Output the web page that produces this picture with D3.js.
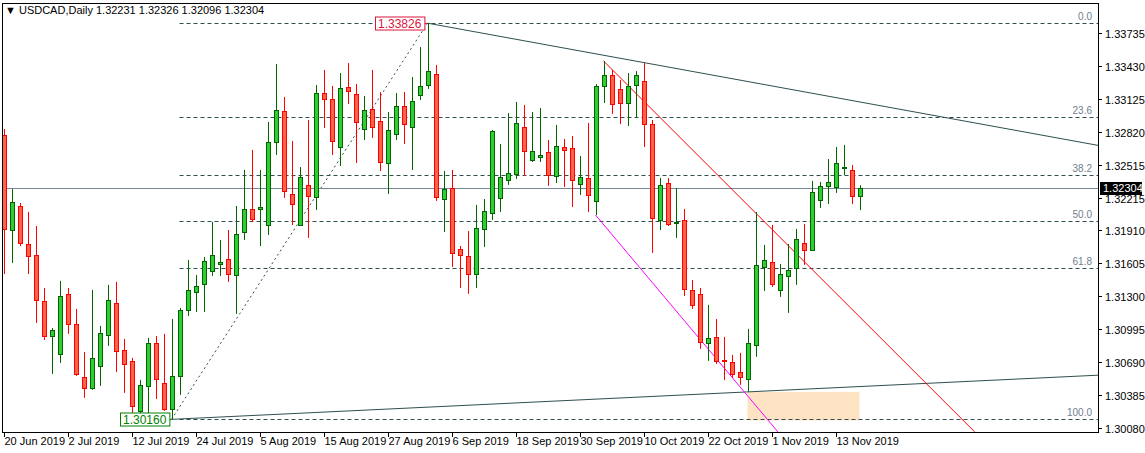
<!DOCTYPE html>
<html><head><meta charset="utf-8">
<script src="https://cdn.jsdelivr.net/npm/d3@7"></script>
<style>body{margin:0;background:#fff}svg{display:block}text{font-family:"Liberation Sans",Arial,sans-serif}</style>
</head><body><svg id="c" width="1145" height="453"></svg>
<script>
const open=[1.32791,1.31912,1.32134,1.31783,1.31681,1.31256,1.30932,1.30766,1.31321,1.31043,1.30553,1.30451,1.30655,1.30941,1.31237,1.30803,1.30701,1.30238,1.30470,1.30867,1.30497,1.30257,1.30562,1.31172,1.31339,1.31413,1.31533,1.31598,1.31644,1.31496,1.31894,1.32107,1.32107,1.31959,1.32727,1.33013,1.32246,1.31959,1.32329,1.32218,1.33180,1.33124,1.32680,1.33235,1.33171,1.32847,1.33032,1.32921,1.32532,1.32801,1.33060,1.32865,1.33161,1.33254,1.33356,1.32199,1.32301,1.31737,1.31672,1.31505,1.31922,1.32070,1.32209,1.32375,1.32431,1.32865,1.32560,1.32588,1.32634,1.32412,1.32680,1.32671,1.32338,1.32394,1.32181,1.33245,1.33346,1.33217,1.33087,1.33254,1.33291,1.32893,1.32005,1.32347,1.31977,1.32005,1.31358,1.31321,1.30867,1.30923,1.30710,1.30692,1.30599,1.30534,1.30849,1.31570,1.31617,1.31358,1.31487,1.31561,1.31792,1.31728,1.32190,1.32320,1.32310,1.32495,1.32468,1.32231];
const high=[1.32847,1.32292,1.32162,1.32079,1.31949,1.31376,1.31006,1.31441,1.31376,1.31182,1.30784,1.31358,1.31025,1.31404,1.31432,1.30904,1.30729,1.30525,1.30914,1.30932,1.30951,1.31089,1.31191,1.31635,1.31496,1.31663,1.31987,1.31820,1.31912,1.32134,1.32468,1.32653,1.32468,1.32912,1.33448,1.33143,1.32736,1.32495,1.32930,1.33254,1.33393,1.33245,1.33365,1.33457,1.33263,1.33152,1.33393,1.33189,1.33004,1.33180,1.33189,1.33328,1.33605,1.33826,1.33439,1.32458,1.32468,1.31764,1.31903,1.32144,1.32199,1.32838,1.32708,1.32995,1.33097,1.33069,1.33004,1.33041,1.32745,1.32884,1.32754,1.32782,1.32597,1.32902,1.33263,1.33476,1.33393,1.33300,1.33365,1.33383,1.33457,1.32930,1.32394,1.32394,1.32301,1.32107,1.31450,1.31376,1.31219,1.31089,1.30923,1.30756,1.30775,1.30997,1.32079,1.31774,1.31959,1.31598,1.31783,1.31922,1.31968,1.32366,1.32357,1.32569,1.32680,1.32699,1.32514,1.32326];
const low=[1.31505,1.31607,1.31764,1.31505,1.31052,1.30895,1.30581,1.30682,1.30951,1.30562,1.30359,1.30433,1.30470,1.30840,1.30599,1.30405,1.30183,1.30211,1.30211,1.30349,1.30238,1.30160,1.30386,1.31117,1.31154,1.31154,1.31487,1.31487,1.31432,1.31136,1.31820,1.31987,1.31764,1.31866,1.32606,1.32209,1.31959,1.31950,1.31839,1.32098,1.32856,1.32606,1.32505,1.33078,1.32532,1.32745,1.32764,1.32458,1.32246,1.32745,1.32708,1.32468,1.33115,1.33217,1.32181,1.31894,1.31570,1.31376,1.31321,1.31376,1.31755,1.32005,1.32079,1.32329,1.32384,1.32412,1.32542,1.32542,1.32320,1.32347,1.32310,1.32125,1.32236,1.32079,1.32051,1.33087,1.32986,1.32893,1.32875,1.32949,1.32680,1.31700,1.31912,1.31949,1.31839,1.31302,1.31182,1.30812,1.30701,1.30673,1.30525,1.30544,1.30479,1.30414,1.30738,1.31348,1.31385,1.31293,1.31145,1.31404,1.31589,1.31718,1.32116,1.32153,1.32255,1.32421,1.32153,1.32096];
const close=[1.31922,1.32172,1.31792,1.31672,1.31265,1.30932,1.30988,1.31302,1.31043,1.30581,1.30451,1.30729,1.30960,1.31265,1.30793,1.30673,1.30285,1.30479,1.30867,1.30534,1.30257,1.30562,1.31172,1.31358,1.31394,1.31626,1.31681,1.31617,1.31505,1.31876,1.32107,1.32014,1.32125,1.32727,1.33023,1.32273,1.32153,1.32403,1.32227,1.33180,1.33124,1.32736,1.33226,1.33198,1.32912,1.33023,1.32865,1.32542,1.32838,1.33060,1.32893,1.33106,1.33245,1.33383,1.32218,1.32292,1.31700,1.31681,1.31505,1.31931,1.32088,1.32828,1.32403,1.32440,1.32902,1.32643,1.32643,1.32606,1.32421,1.32690,1.32653,1.32375,1.32403,1.32236,1.33245,1.33346,1.33078,1.33087,1.33245,1.33346,1.32893,1.32024,1.32329,1.31968,1.31987,1.31367,1.31219,1.30877,1.30914,1.30701,1.30701,1.30581,1.30553,1.30867,1.31589,1.31635,1.31413,1.31505,1.31543,1.31829,1.31728,1.32264,1.32320,1.32357,1.32532,1.32495,1.32227,1.32304];
const dateTickIndex=[0,8,16,24,32,40,48,56,64,72,80,88,96,104];
const dateLabels=["20 Jun 2019","2 Jul 2019","12 Jul 2019","24 Jul 2019","5 Aug 2019","15 Aug 2019","27 Aug 2019","6 Sep 2019","18 Sep 2019","30 Sep 2019","10 Oct 2019","22 Oct 2019","1 Nov 2019","13 Nov 2019"];
const priceTicks=[1.33735,1.33430,1.33125,1.32820,1.32515,1.32210,1.31910,1.31605,1.31300,1.30995,1.30690,1.30385,1.30080];
const priceTickLabels=["1.33735","1.33430","1.33125","1.32820","1.32515","1.32215","1.31910","1.31605","1.31300","1.30995","1.30690","1.30385","1.30080"];
const fibLow=1.30160, fibHigh=1.33826, fibLowIdx=21, fibHighIdx=53;
const fibLevels=[0,23.6,38.2,50,61.8,100];
const fibLabels=["0.0","23.6","38.2","50.0","61.8","100.0"];
const upperTrend=[[53,1.33826],[137.2,1.32690]];
const lowerTrend=[[21,1.30160],[137.2,1.30570]];
const redLine=[[75,1.33476],[121.4,1.30044]];
const magentaLine=[[74,1.32051],[96.8,1.30044]];
const zoneBox={i0:93,i1:107,p0:1.30414,p1:1.30150};
const lastPrice=1.32304;

const svg=d3.select("#c");
const L=2,R=1098,T=3,B=432;
const x=d3.scaleLinear().domain([0,1]).range([3.5,11.5]);
const y=d3.scaleLinear().domain([1.30080,1.33735]).range([428,33]);
svg.append("defs").append("clipPath").attr("id","pc").append("rect").attr("x",L).attr("y",T).attr("width",R-L).attr("height",B-T);
const g=svg.append("g").attr("clip-path","url(#pc)");

g.append("rect").attr("x",x(zoneBox.i0)).attr("y",y(zoneBox.p0)).attr("width",x(zoneBox.i1)-x(zoneBox.i0)).attr("height",y(zoneBox.p1)-y(zoneBox.p0)).attr("fill","#fde3c4");
fibLevels.forEach((lv,k)=>{
  const p=fibHigh-(fibHigh-fibLow)*lv/100;
  const yy=Math.round(y(p))+.5;
  g.append("line").attr("x1",x(fibLowIdx)+8).attr("x2",R).attr("y1",yy).attr("y2",yy).attr("stroke","#2f4f4f").attr("stroke-dasharray","4,3");
  g.append("text").attr("x",1092).attr("y",yy-4).attr("text-anchor","end").attr("font-size",10).attr("fill","#708090").text(fibLabels[k]);
});
g.append("line").attr("x1",x(fibLowIdx)).attr("y1",y(fibLow)).attr("x2",x(fibHighIdx)).attr("y2",y(fibHigh)).attr("stroke","#2f4f4f").attr("stroke-dasharray","2,3");
g.append("line").attr("x1",L).attr("x2",R).attr("y1",Math.round(y(lastPrice))+.5).attr("y2",Math.round(y(lastPrice))+.5).attr("stroke","#778899");

function extLine(pts,color,extend){
  const [a,b]=pts; const s=(b[1]-a[1])/(b[0]-a[0]);
  const i2=extend?140:b[0];
  g.append("line").attr("x1",x(a[0])).attr("y1",y(a[1])).attr("x2",x(i2)).attr("y2",y(a[1]+s*(i2-a[0]))).attr("stroke",color).attr("stroke-width",1);
}
extLine(upperTrend,"#2f4f4f",true);
extLine(lowerTrend,"#2f4f4f",true);
extLine(redLine,"#ff0000",false);
extLine(magentaLine,"#ff00ff",false);

open.forEach((o,i)=>{
  const c=close[i], up=c>=o;
  const stroke=up?"#006400":"#ff0000", fill=up?"#32cd32":"#ff6347";
  const cx=Math.round(x(i))+.5;
  g.append("line").attr("x1",cx).attr("x2",cx).attr("y1",y(high[i])).attr("y2",y(low[i])).attr("stroke",stroke);
  const top=Math.round(y(Math.max(o,c))), bot=Math.round(y(Math.min(o,c)));
  g.append("rect").attr("x",cx-2).attr("y",top+.5).attr("width",4).attr("height",Math.max(bot-top,1)).attr("fill",fill).attr("stroke",stroke);
});

function tagBox(idx,price,color,xl){
  const yy=Math.round(y(price))+.5;
  const gg=svg.append("g");
  const r=gg.append("rect");
  const t=gg.append("text").attr("x",xl+3).attr("y",yy+4.5).attr("font-size",12).attr("fill",color).text(price.toFixed(5));
  const w=t.node().getComputedTextLength();
  r.attr("x",xl+.5).attr("y",yy-6.5).attr("width",w+6).attr("height",13).attr("fill","#fff").attr("stroke",color);
  gg.append("line").attr("x1",xl+w+6.5).attr("x2",x(idx)).attr("y1",yy).attr("y2",yy).attr("stroke",color);
}
tagBox(fibHighIdx,fibHigh,"#dc143c",375);
tagBox(fibLowIdx,fibLow,"#008000",120);

svg.append("rect").attr("x",L+.5).attr("y",T+.5).attr("width",R-L).attr("height",B-T).attr("fill","none").attr("stroke","#000");
priceTicks.forEach((p,k)=>{
  const yy=Math.round(y(p))+.5;
  svg.append("line").attr("x1",R).attr("x2",R+4).attr("y1",yy).attr("y2",yy).attr("stroke","#000");
  svg.append("text").attr("x",R+7).attr("y",yy+4).attr("font-size",11).attr("fill","#000").text(priceTickLabels[k]);
});
const ly=Math.round(y(lastPrice));
svg.append("rect").attr("x",R+2).attr("y",ly-6).attr("width",42).attr("height",13).attr("fill","#000");
svg.append("text").attr("x",R+5).attr("y",ly+4).attr("font-size",11).attr("fill","#fff").text(lastPrice.toFixed(5));
dateTickIndex.forEach((i,k)=>{
  const xx=Math.round(x(i))+.5;
  svg.append("line").attr("x1",xx).attr("x2",xx).attr("y1",B).attr("y2",B+5).attr("stroke","#000");
  svg.append("text").attr("x",xx).attr("y",B+13).attr("font-size",11).attr("fill","#000").text(dateLabels[k]);
});
svg.append("text").attr("x",5).attr("y",14).attr("font-size",11).attr("fill","#000").text("\u25BC USDCAD,Daily  1.32231 1.32326 1.32096 1.32304");
</script></body></html>
